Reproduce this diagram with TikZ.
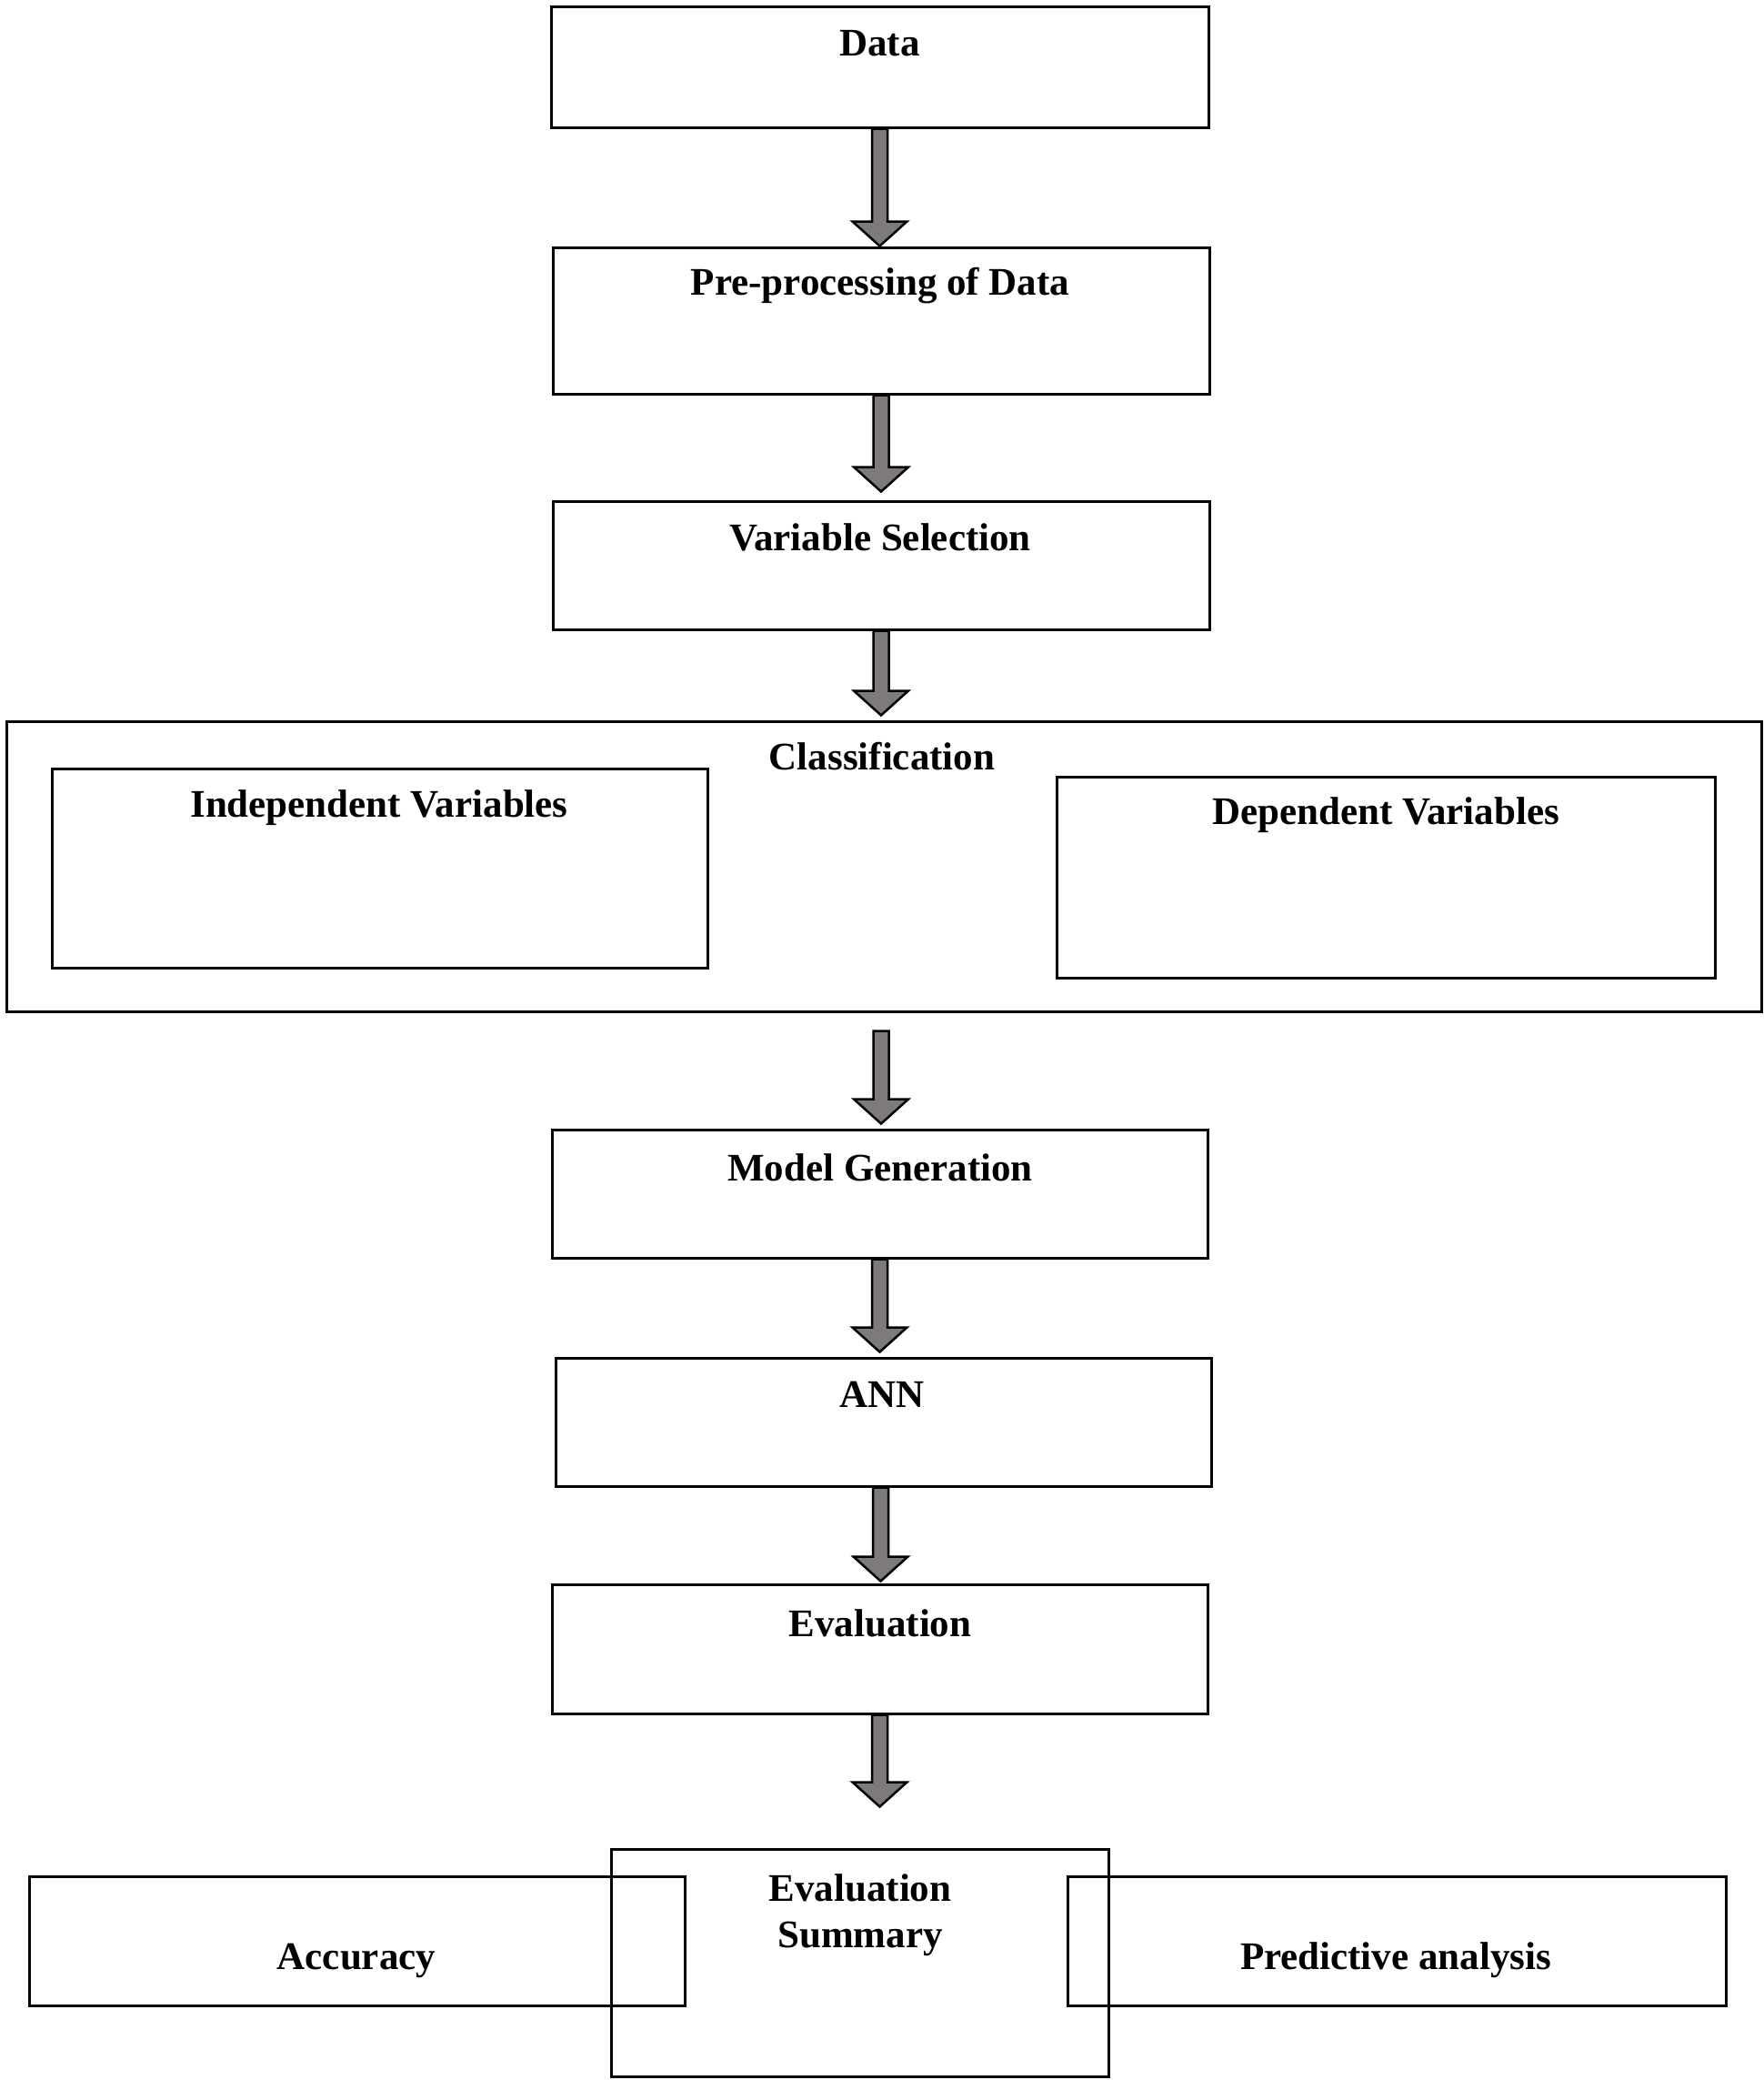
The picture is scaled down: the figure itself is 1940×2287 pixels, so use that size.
\documentclass[tikz,border=0pt]{standalone}
\usepackage{fontspec}
\setmainfont{Liberation Serif}
\usetikzlibrary{calc}
\definecolor{arrowfill}{RGB}{127,122,122}
\tikzset{
  box/.style={draw, line width=3pt, inner sep=0pt},
  lbl/.style={font=\bfseries\fontsize{43}{51}\selectfont, inner sep=0pt, anchor=base},
  flow/.style={fill=arrowfill, draw=black, line width=2.5pt, line join=miter,
    to path={let \p1=(\tikztostart), \p2=(\tikztotarget) in
      (\x1-8.5pt,\y1) -- (\x1-8.5pt,\y2+27pt) -- (\x1-30pt,\y2+27pt) -- (\x1,\y2)
      -- (\x1+30pt,\y2+27pt) -- (\x1+8.5pt,\y2+27pt) -- (\x1+8.5pt,\y1) -- cycle}}
}
\begin{document}
\begin{tikzpicture}[x=1pt, y=-1pt]
	\useasboundingbox (0,0) rectangle (1940,2287);
	\node[box, minimum width=723pt, minimum height=133pt] (data) at (967.5,73.5) {};
	\node[box, minimum width=722pt, minimum height=161pt] (pre) at (969,352.5) {};
	\node[box, minimum width=722pt, minimum height=141pt] (var) at (969,621.5) {};
	\node[box, minimum width=1930pt, minimum height=319pt] (class) at (972,952.5) {};
	\node[box, minimum width=721pt, minimum height=219pt] (indep) at (417.5,954.5) {};
	\node[box, minimum width=724pt, minimum height=221pt] (dep) at (1524,964.5) {};
	\node[box, minimum width=721pt, minimum height=141pt] (model) at (967.5,1312.5) {};
	\node[box, minimum width=721pt, minimum height=141pt] (ann) at (971.5,1563.5) {};
	\node[box, minimum width=721pt, minimum height=142pt] (eval) at (967.5,1813) {};
	\node[box, minimum width=721pt, minimum height=142pt] (acc) at (392.5,2134) {};
	\node[box, minimum width=724pt, minimum height=142pt] (pred) at (1536,2134) {};
	\node[box, minimum width=547pt, minimum height=250pt] (summ) at (945.5,2158) {};
	\node[lbl] (datalbl) at (967.5,61) {Data};
	\node[lbl] (prelbl) at (968,324) {Pre-processing of Data};
	\node[lbl] (varlbl) at (968,605) {Variable Selection};
	\node[lbl] (classlbl) at (970,846) {Classification};
	\node[lbl] (indeplbl) at (417,898) {Independent Variables};
	\node[lbl] (deplbl) at (1524,906) {Dependent Variables};
	\node[lbl] (modellbl) at (968,1298) {Model Generation};
	\node[lbl] (annlbl) at (970,1547) {ANN};
	\node[lbl] (evallbl) at (968,1799) {Evaluation};
	\node[lbl, anchor=center, align=center] (summlbl) at (946,2106) {Evaluation\\Summary};
	\node[lbl] (acclbl) at (392,2165) {Accuracy};
	\node[lbl] (predlbl) at (1535,2165) {Predictive analysis};
	\draw[flow] (data.south) to (pre.north);
	\draw[flow] (pre.south) to ([yshift=9pt]var.north);
	\draw[flow] (var.south) to ([yshift=5pt]class.north);
	\draw[flow] ([xshift=-3pt,yshift=-20pt]class.south) to ([yshift=5pt]model.north);
	\draw[flow] (model.south) to ([yshift=5pt]ann.north);
	\draw[flow] ([xshift=-3pt]ann.south) to ([yshift=2pt]eval.north);
	\draw[flow] (eval.south) to ([yshift=45pt]summ.north);
\end{tikzpicture}
\end{document}
